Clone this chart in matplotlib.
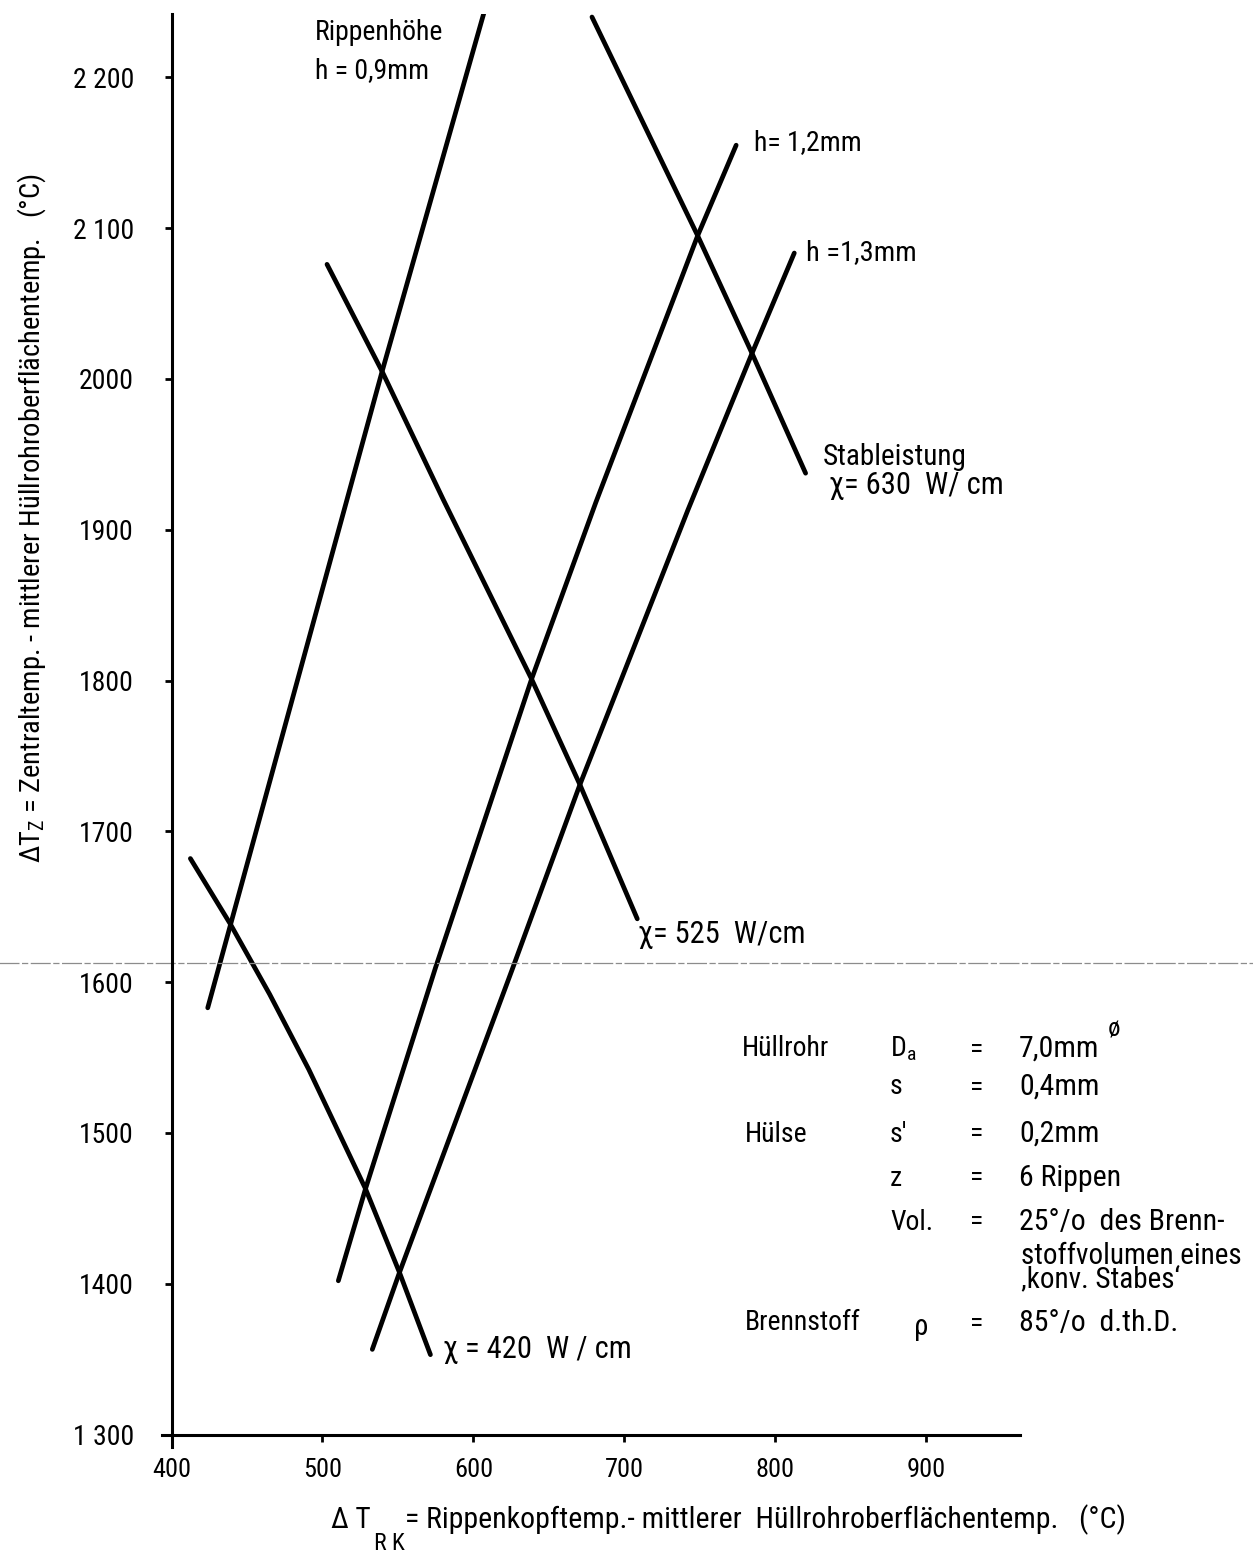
import matplotlib
matplotlib.use("Agg")
import matplotlib.pyplot as plt
from matplotlib import font_manager as fm

# ---------------- data ----------------
h09_x = [424, 539.5, 607]
h09_y = [1583, 2005, 2243]

h12_x = [510.5, 528.5, 575, 638.5, 681, 748.5, 774]
h12_y = [1402, 1463, 1610, 1801, 1918, 2095, 2155]

h13_x = [533, 551, 625.5, 670.5, 742, 784.5, 812.5]
h13_y = [1356.5, 1407.5, 1608, 1731, 1913, 2017, 2083.5]

chi420_x = [412.5, 439, 465, 491, 528.5, 551, 571.5]
chi420_y = [1682, 1638.5, 1592, 1542, 1463, 1407.5, 1353]

chi525_x = [503, 539.5, 580, 638.5, 670.5, 708.5]
chi525_y = [2076, 2005, 1920, 1801, 1731, 1642]

chi630_x = [678.5, 748.5, 784.5, 820]
chi630_y = [2240, 2095, 2017, 1937.5]

x_ticks = [400, 500, 600, 700, 800, 900]
x_ticklabels = ["400", "500", "600", "700", "800", "900"]
y_ticks = [1300, 1400, 1500, 1600, 1700, 1800, 1900, 2000, 2100, 2200]
y_ticklabels = ["1 300", "1400", "1500", "1600", "1700", "1800", "1900", "2000", "2 100", "2 200"]

table_col1 = ["Hüllrohr", "Hülse", "Brennstoff"]
table_col2 = ["D$_\\mathrm{a}$", "s", "s'", "z", "Vol."]
table_vals = ["7,0mm", "0,4mm", "0,2mm", "6 Rippen", "25°/o  des Brenn-"]
table_cont = "stoffvolumen eines\n‚konv. Stabes‘"
fuel_vals = ["ρ", "85°/o  d.th.D."]

# ---------------- font ----------------
names = {f.name for f in fm.fontManager.ttflist}
S = 1.0
FONT = None
for cand in ["Liberation Sans Narrow", "Roboto Condensed", "Open Sans Condensed"]:
    if cand in names:
        FONT = cand
        break
if FONT is None:
    FONT = "Liberation Sans" if "Liberation Sans" in names else "DejaVu Sans"
    S = 0.82

plt.rcParams["font.family"] = [FONT, "DejaVu Sans"]
plt.rcParams["mathtext.fontset"] = "custom"
plt.rcParams["mathtext.rm"] = FONT
plt.rcParams["mathtext.it"] = FONT
plt.rcParams["mathtext.bf"] = FONT

W, H = 1253, 1554
fig = plt.figure(figsize=(W / 100, H / 100), dpi=100)

ax_l, ax_r = 171.5, 1020.0
ax_t, ax_b = 14.0, 1434.6
ax = fig.add_axes([ax_l / W, 1 - ax_b / H, (ax_r - ax_l) / W, (ax_b - ax_t) / H])
ax.set_xlim(400, 962)
ax.set_ylim(1300, 2242)
ax.patch.set_alpha(0)

for s in ["top", "right"]:
    ax.spines[s].set_visible(False)
for s in ["left", "bottom"]:
    ax.spines[s].set_linewidth(2.2)
ax.spines["left"].set_bounds(1291.5, 2242)
ax.spines["bottom"].set_bounds(394, 962)

ax.set_xticks(x_ticks)
ax.set_xticklabels(x_ticklabels)
ax.set_yticks(y_ticks)
ax.set_yticklabels(y_ticklabels)
ax.tick_params(axis="y", direction="out", length=5, width=2, pad=22, labelsize=20 * S)
ax.tick_params(axis="x", direction="out", length=5, width=2, pad=12, labelsize=19 * S)

LW = 3.4
for xs, ys in [(h09_x, h09_y), (h12_x, h12_y), (h13_x, h13_y),
               (chi420_x, chi420_y), (chi525_x, chi525_y), (chi630_x, chi630_y)]:
    ax.plot(xs, ys, color="black", lw=LW, solid_capstyle="round", solid_joinstyle="round")

# scan artefact line
ax.axhline(1612.5, xmin=-0.21, xmax=1.28, clip_on=False, color="0.55", lw=0.9,
           ls=(0, (16, 2, 5, 2)))


def F(px, py):
    return px / W, 1 - py / H


def T(px, py, s, size=20, ha="left", va="center", **kw):
    fig.text(*F(px, py), s, fontsize=size * S, ha=ha, va=va, color="black", **kw)


# curve labels
T(315, 32, "Rippenhöhe")
T(315, 71, "h = 0,9mm")
T(754, 143, "h= 1,2mm")
T(806, 253, "h =1,3mm", size=20.5)
T(823, 457, "Stableistung", size=21)
T(829, 485, "χ= 630  W/ cm", size=22)
T(638, 935, "χ= 525  W/cm", size=22)
T(443, 1350, "χ = 420  W / cm", size=22)

# parameter table
rows = [1049, 1087, 1134, 1178, 1222]
T(742, rows[0], table_col1[0])
T(745, rows[2], table_col1[1])
T(745, 1323, table_col1[2])
for i, lab in enumerate(table_col2):
    T(890, rows[i], lab)
for i, val in enumerate(table_vals):
    T(970, rows[i], "=")
    T(1019, rows[i], val, size=21.5)
T(1108, 1029, "ø", size=18)
T(1021, 1268, table_cont, size=21, linespacing=0.78)
T(914, 1327, fuel_vals[0], size=21)
T(970, 1323, "=")
T(1019, 1323, fuel_vals[1], size=21.5)

# x axis label
T(331, 1520, "Δ T", size=21)
T(374, 1544, "R K", size=17)
T(405, 1520, "= Rippenkopftemp.- mittlerer  Hüllrohroberflächentemp.   (°C)", size=21.5)

# y axis label
fig.text(*F(32, 518), "ΔT$_\\mathrm{Z}$ = Zentraltemp. - mittlerer Hüllrohroberflächentemp.   (°C)",
         rotation=90, fontsize=20.5 * S, ha="center", va="center")

fig.savefig("out.png", dpi=100)
